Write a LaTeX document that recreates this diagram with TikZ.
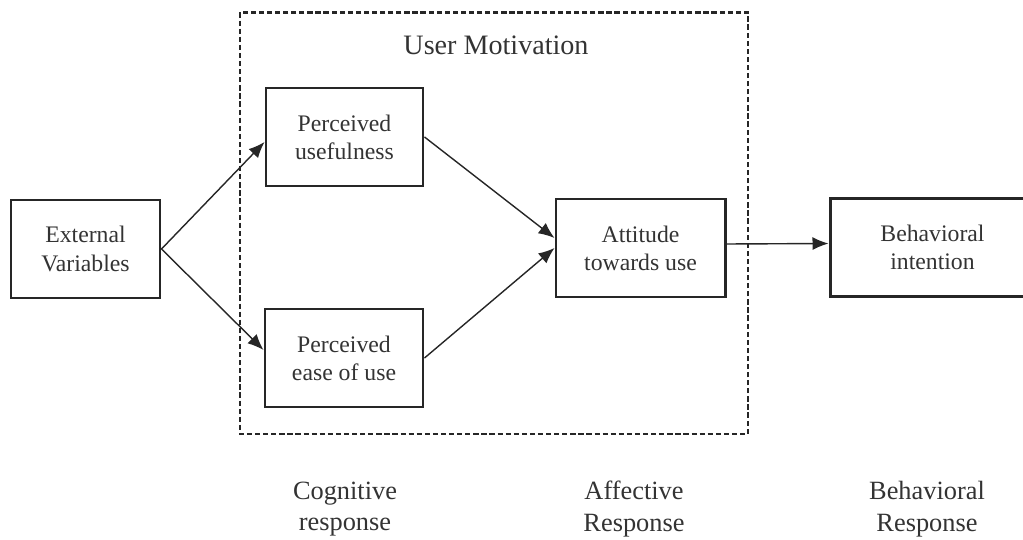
\documentclass[tikz,border=0pt]{standalone}
\usepackage{fontspec}
\setmainfont{Liberation Serif}
\usetikzlibrary{arrows.meta}
\tikzset{
  box/.style={draw=black!85, line width=1.7pt, inner sep=0pt, align=center,
    minimum height=1.96cm, font=\fontsize{13.5}{16}\selectfont, text=black!80},
  link/.style={draw=black!85, line width=0.8pt, -{Latex[length=0.32cm,width=0.26cm]}},
  resp/.style={align=center, font=\fontsize{15}{18}\selectfont, text=black!80}
}
\begin{document}
\begin{tikzpicture}[scale=1.0]
\useasboundingbox (0,0) rectangle (20.46,-10.8);
\draw[black!85, line width=1.5pt, dash pattern=on 3pt off 1.6pt] (4.80,-0.25) rectangle (14.96,-8.68);
\node[font=\fontsize{16}{19}\selectfont, text=black!80] (motiv) at (9.92,-0.9) {User Motivation};
\node[box, minimum width=2.98cm] (ext) at (1.71,-4.98) {External\\Variables};
\node[box, minimum width=3.14cm] (useful) at (6.89,-2.74) {Perceived\\usefulness};
\node[box, minimum width=3.16cm] (ease) at (6.88,-7.16) {Perceived\\ease of use};
\node[box, minimum width=3.38cm] (att) at (12.81,-4.96) {Attitude\\towards use};
\node[box, minimum width=4.1cm] (beh) at (18.65,-4.95) {Behavioral\\intention};
\draw[link] (ext.east) -- ([yshift=-0.1cm]useful.west);
\draw[link] (ext.east) -- ([yshift=0.16cm]ease.west);
\draw[link] (useful.east) -- ([yshift=0.2cm]att.west);
\draw[link] (ease.east) -- ([yshift=0cm]att.west);
\draw[link] ([yshift=0.08cm]att.east) -- ([yshift=0.08cm]beh.west);
\node[resp] (cog) at (6.9,-10.18) {Cognitive\\response};
\node[resp] (aff) at (12.68,-10.18) {Affective\\Response};
\node[resp] (bresp) at (18.54,-10.18) {Behavioral\\Response};
\end{tikzpicture}
\end{document}
